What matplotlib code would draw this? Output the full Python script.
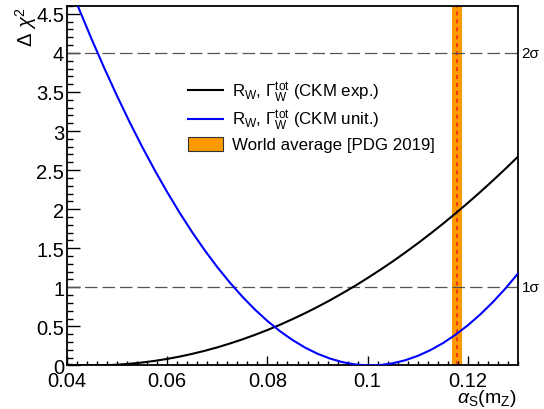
import numpy as np
import matplotlib
matplotlib.use('Agg')
import matplotlib.pyplot as plt
from matplotlib.ticker import MultipleLocator
from matplotlib.patches import Patch

plt.rcParams['font.family'] = ['Liberation Sans', 'DejaVu Sans']
plt.rcParams['mathtext.fontset'] = 'custom'
plt.rcParams['mathtext.rm'] = 'Liberation Sans'
plt.rcParams['mathtext.it'] = 'Liberation Sans:italic'

# =========================
# DATA
# =========================
alpha_s = [0.0400, 0.0425, 0.0450, 0.0475, 0.0500, 0.0525, 0.0550, 0.0575,
           0.0600, 0.0625, 0.0650, 0.0675, 0.0700, 0.0725, 0.0750, 0.0775,
           0.0800, 0.0825, 0.0850, 0.0875, 0.0900, 0.0925, 0.0950, 0.0975,
           0.1000, 0.1025, 0.1050, 0.1075, 0.1100, 0.1125, 0.1150, 0.1175,
           0.1200, 0.1225, 0.1250, 0.1275, 0.1300]
chi2_exp = [0.009, 0.002, 0.000, 0.002, 0.009, 0.021, 0.037, 0.058,
            0.083, 0.113, 0.148, 0.187, 0.231, 0.280, 0.333, 0.391,
            0.453, 0.520, 0.592, 0.668, 0.749, 0.834, 0.925, 1.019,
            1.119, 1.223, 1.331, 1.445, 1.562, 1.685, 1.812, 1.944,
            2.080, 2.221, 2.367, 2.517, 2.672]
chi2_unit = [4.947, 4.547, 4.163, 3.797, 3.447, 3.114, 2.798, 2.499,
             2.217, 1.952, 1.703, 1.472, 1.257, 1.060, 0.879, 0.715,
             0.568, 0.438, 0.325, 0.228, 0.149, 0.087, 0.041, 0.012,
             0.000, 0.005, 0.027, 0.066, 0.122, 0.195, 0.284, 0.391,
             0.514, 0.654, 0.811, 0.985, 1.176]

pdg_mean = 0.1179
pdg_err = 0.0010
sigma_levels = [1, 4]
sigma_labels = ['1σ', '2σ']

# =========================
# PLOT
# =========================
fig = plt.figure(figsize=(5.44, 4.10), dpi=100)
ax = fig.add_axes([67/544, 1 - 366.4/410, (518 - 67)/544, (366.4 - 7)/410])

ax.axvspan(pdg_mean - pdg_err, pdg_mean + pdg_err, color='#FF9900', lw=0, zorder=1)
ax.axvline(pdg_mean, color='#F03010', lw=1.3, ls=(0, (2.2, 2.2)), zorder=2)

for lev, lab in zip(sigma_levels, sigma_labels):
    ax.axhline(lev, color='#555555', lw=0.9, ls=(0, (10, 4)), zorder=2)
    ax.text(1.008, lev, lab, transform=ax.get_yaxis_transform(),
            fontsize=11, va='center', ha='left')

l1, = ax.plot(alpha_s, chi2_exp, color='black', lw=1.5, zorder=3)
l2, = ax.plot(alpha_s, chi2_unit, color='#0000FF', lw=1.5, zorder=3)

ax.set_xlim(0.04, 0.13)
ax.set_ylim(0, 4.6)

ax.xaxis.set_major_locator(MultipleLocator(0.02))
ax.xaxis.set_minor_locator(MultipleLocator(0.002))
ax.yaxis.set_major_locator(MultipleLocator(0.5))
ax.yaxis.set_minor_locator(MultipleLocator(0.1))
ax.xaxis.set_major_formatter(plt.FuncFormatter(lambda v, p: f'{v:g}'))
ax.yaxis.set_major_formatter(plt.FuncFormatter(lambda v, p: f'{v:g}'))

ax.tick_params(axis='both', which='both', direction='in', top=False, right=False,
               labelsize=14.5, width=1.0)
ax.tick_params(axis='x', which='major', length=6.5, pad=4)
ax.tick_params(axis='x', which='minor', length=3.2)
ax.tick_params(axis='y', which='major', length=9.4, pad=2)
ax.tick_params(axis='y', which='minor', length=4.3)
for spine in ax.spines.values():
    spine.set_linewidth(1.3)

fig.text(26/544, 1 - 7/410, r'$\Delta\ \chi^{2}$', rotation=90,
         ha='center', va='top', fontsize=14.5)
fig.text(517/544, 1 - 409.5/410, r'$\alpha_{\rm S}$(m$_{\rm Z}$)',
         ha='right', va='bottom', fontsize=14)

band_handle = Patch(facecolor='#FF9900', edgecolor='#333333', lw=0.8)
ax.legend([l1, l2, band_handle],
          [r'R$_{\rm W}$, $\Gamma^{\rm tot}_{\rm W}$ (CKM exp.)',
           r'R$_{\rm W}$, $\Gamma^{\rm tot}_{\rm W}$ (CKM unit.)',
           'World average [PDG 2019]'],
          loc='upper left', bbox_to_anchor=(176/544, 1 - 69/410),
          bbox_transform=fig.transFigure, frameon=False, fontsize=12.2,
          handlelength=2.1, handleheight=0.9, handletextpad=0.5,
          labelspacing=0.25, borderpad=0.2)

plt.savefig('out.png', dpi=100)
plt.close()
